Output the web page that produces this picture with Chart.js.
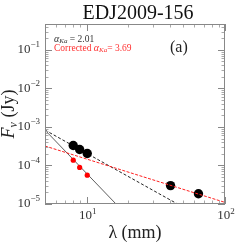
<!DOCTYPE html>
<html>
<head>
<meta charset="utf-8">
<script src="https://cdn.jsdelivr.net/npm/chart.js@4.4.0/dist/chart.umd.min.js"></script>
<style>
  html, body { margin: 0; padding: 0; background: #fff; }
  #wrap { width: 249px; height: 249px; }
</style>
</head>
<body>
<div id="wrap"><canvas id="sedChart" width="249" height="249"></canvas></div>
<script>
// wavelengths (mm) and fluxes (Jy)
const wavelengths = [8.0, 8.9, 10.1, 40.4, 64.3];
const fluxObserved = [3.3e-4, 2.6e-4, 2.05e-4, 3.0e-5, 1.84e-5];
const wavelengthsCorr = [8.0, 8.9, 10.1];
const fluxCorrected = [1.37e-4, 8.9e-5, 5.6e-5];

// fit line end points (mm, Jy)
const fitAllX = [5, 100];
const fitAllY = [3.2e-4, 1.1e-5];
const fitKaX = [5, 45.4];
const fitKaY = [8.3e-4, 1.0e-5];
const fitCorrX = [5, 16.3];
const fitCorrY = [8.3e-4, 1.0e-5];

const xMajor = [1, 2];
const yMajor = [-5, -4, -3, -2, -1];

const SERIF = '"Liberation Serif", "DejaVu Serif", serif';

const toPoints = (xs, ys) => xs.map((x, i) => ({ x: x, y: ys[i] }));

const frameAndTicks = {
    id: 'frameAndTicks',
    afterDraw(chart) {
        const { ctx, chartArea: a, scales: { x, y } } = chart;
        ctx.save();
        ctx.lineWidth = 1;

        const minor = new Path2D();
        const major = new Path2D();
        for (let k = 0; k <= 2; k++) {
            for (let d = 1; d <= 9; d++) {
                const v = d * Math.pow(10, k);
                if (v < x.min || v > x.max) continue;
                const px = Math.round(x.getPixelForValue(v)) + 0.5;
                const p = d === 1 ? major : minor;
                const len = d === 1 ? 7 : 3.5;
                p.moveTo(px, a.bottom); p.lineTo(px, a.bottom - len);
                p.moveTo(px, a.top); p.lineTo(px, a.top + len);
            }
        }
        for (let k = -5; k <= 0; k++) {
            for (let d = 1; d <= 9; d++) {
                const v = d * Math.pow(10, k);
                if (v < y.min || v > y.max) continue;
                const py = Math.round(y.getPixelForValue(v)) + 0.5;
                const p = d === 1 ? major : minor;
                const len = d === 1 ? 7 : 3.5;
                p.moveTo(a.left, py); p.lineTo(a.left + len, py);
                p.moveTo(a.right, py); p.lineTo(a.right - len, py);
            }
        }
        ctx.strokeStyle = '#aaaaaa';
        ctx.stroke(minor);
        ctx.strokeStyle = '#888888';
        ctx.stroke(major);
        ctx.strokeRect(a.left + 0.5, a.top + 0.5, a.right - a.left - 1, a.bottom - a.top - 1);

        // title
        ctx.fillStyle = '#111';
        ctx.font = '20px ' + SERIF;
        ctx.textAlign = 'center';
        ctx.textBaseline = 'middle';
        ctx.fillText('EDJ2009-156', 138, 14);

        // tick labels 10^n
        ctx.fillStyle = '#333';
        yMajor.forEach(e => {
            const py = y.getPixelForValue(Math.pow(10, e));
            ctx.font = '9px ' + SERIF;
            const exp = '\u2212' + Math.abs(e);
            const we = ctx.measureText(exp).width;
            ctx.textAlign = 'left';
            ctx.fillText(exp, a.left - 5 - we, py - 5);
            ctx.font = '13px ' + SERIF;
            ctx.textAlign = 'right';
            ctx.fillText('10', a.left - 5 - we, py);
        });
        xMajor.forEach(e => {
            const px = x.getPixelForValue(Math.pow(10, e));
            ctx.font = '13px ' + SERIF;
            const w10 = ctx.measureText('10').width;
            ctx.font = '9px ' + SERIF;
            const exp = String(e);
            const we = ctx.measureText(exp).width;
            const start = px - (w10 + we) / 2 + 1;
            ctx.textAlign = 'left';
            ctx.fillText(exp, start + w10, a.bottom + 8);
            ctx.font = '13px ' + SERIF;
            ctx.fillText('10', start, a.bottom + 12);
        });

        // axis titles
        ctx.fillStyle = '#222';
        ctx.font = '18px ' + SERIF;
        ctx.textAlign = 'center';
        ctx.fillText('\u03bb (mm)', (a.left + a.right) / 2, a.bottom + 29);

        ctx.translate(9, (a.top + a.bottom) / 2);
        ctx.rotate(-Math.PI / 2);
        ctx.font = 'italic 18px ' + SERIF;
        const wF = ctx.measureText('F').width;
        ctx.font = 'italic 12px ' + SERIF;
        const wNu = ctx.measureText('\u03bd').width;
        ctx.font = '18px ' + SERIF;
        const wJy = ctx.measureText(' (Jy)').width;
        let cx = -(wF + wNu + wJy) / 2;
        ctx.textAlign = 'left';
        ctx.font = 'italic 18px ' + SERIF;
        ctx.fillText('F', cx, 0); cx += wF;
        ctx.font = 'italic 12px ' + SERIF;
        ctx.fillText('\u03bd', cx, 5); cx += wNu;
        ctx.font = '18px ' + SERIF;
        ctx.fillText(' (Jy)', cx, 0);
        ctx.restore();

        // annotations
        ctx.save();
        ctx.textBaseline = 'middle';
        ctx.textAlign = 'left';
        const drawAlpha = (prefix, suffix, color, px, py) => {
            ctx.fillStyle = color;
            let cx = px;
            ctx.font = '9.5px ' + SERIF;
            ctx.fillText(prefix, cx, py); cx += ctx.measureText(prefix).width;
            ctx.font = 'italic 10px ' + SERIF;
            ctx.fillText('\u03b1', cx, py); cx += ctx.measureText('\u03b1').width;
            ctx.font = 'italic 7px ' + SERIF;
            ctx.fillText('Ka', cx, py + 2.5); cx += ctx.measureText('Ka').width;
            ctx.font = '9.5px ' + SERIF;
            ctx.fillText(suffix, cx, py);
        };
        drawAlpha('', ' = 2.01', '#333', a.left + 9, 39);
        drawAlpha('Corrected ', '= 3.69', '#ff3030', a.left + 9, 48);
        ctx.fillStyle = '#222';
        ctx.font = '16px ' + SERIF;
        ctx.fillText('(a)', 170, 48);
        ctx.restore();
    }
};

const ctx = document.getElementById('sedChart').getContext('2d');
new Chart(ctx, {
    type: 'scatter',
    data: {
        datasets: [
            {
                label: 'fit all',
                data: toPoints(fitAllX, fitAllY),
                showLine: true,
                borderColor: '#ff2020',
                borderWidth: 1,
                borderDash: [3, 1.5],
                pointRadius: 0,
                order: 0
            },
            {
                label: 'corrected',
                data: toPoints(wavelengthsCorr, fluxCorrected),
                backgroundColor: '#ff0000',
                borderWidth: 0,
                pointRadius: 2.6,
                order: 1
            },
            {
                label: 'observed',
                data: toPoints(wavelengths, fluxObserved),
                backgroundColor: '#000000',
                borderWidth: 0,
                pointRadius: 4.7,
                order: 2
            },
            {
                label: 'fit Ka',
                data: toPoints(fitKaX, fitKaY),
                showLine: true,
                borderColor: '#222',
                borderWidth: 1,
                borderDash: [3, 2],
                pointRadius: 0,
                order: 3
            },
            {
                label: 'fit corrected',
                data: toPoints(fitCorrX, fitCorrY),
                showLine: true,
                borderColor: '#333',
                borderWidth: 0.8,
                pointRadius: 0,
                order: 4
            }
        ]
    },
    options: {
        responsive: false,
        animation: false,
        layout: { padding: { top: 24, right: 24, left: 0, bottom: 0 } },
        scales: {
            x: {
                type: 'logarithmic',
                min: 5,
                max: 100,
                grid: { display: false },
                border: { display: false },
                ticks: { display: false },
                afterFit: (s) => { s.height = 45; }
            },
            y: {
                type: 'logarithmic',
                min: 1e-5,
                max: 0.47,
                grid: { display: false },
                border: { display: false },
                ticks: { display: false },
                afterFit: (s) => { s.width = 45; }
            }
        },
        plugins: {
            legend: { display: false },
            tooltip: { enabled: false },
            title: { display: false }
        }
    },
    plugins: [frameAndTicks]
});
</script>
</body>
</html>
